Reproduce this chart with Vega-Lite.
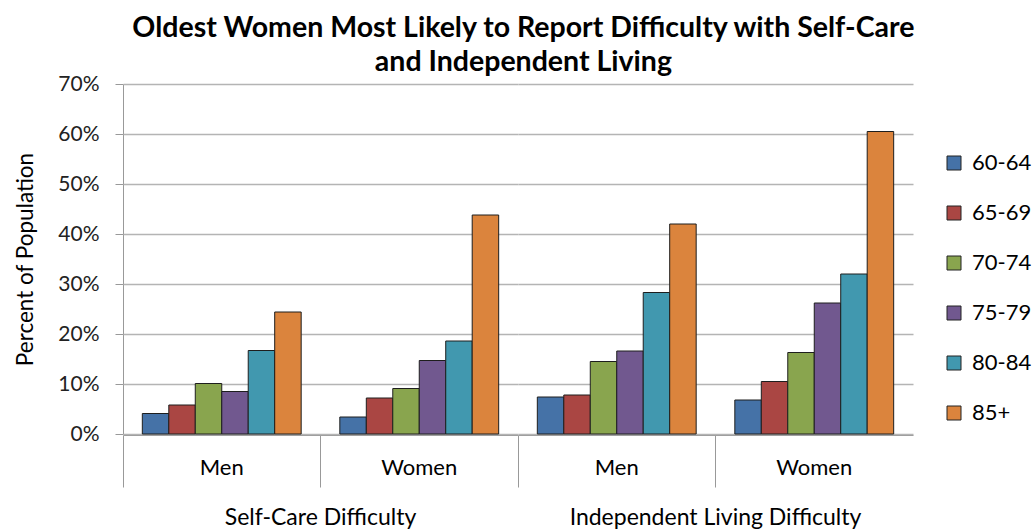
{
  "$schema": "https://vega.github.io/schema/vega-lite/v6.json",
  "background": "white",
  "padding": {"left": 14, "top": 13, "right": 5, "bottom": 5},
  "title": {
    "text": ["Oldest Women Most Likely to Report Difficulty with Self-Care", "and Independent Living"],
    "font": "Lato",
    "fontSize": 28.5,
    "fontWeight": "bold",
    "color": "black",
    "anchor": "middle",
    "lineHeight": 34,
    "offset": -3
  },
  "data": {
    "values": [
      {"difficulty": "Self-Care Difficulty", "sex": "Men", "age": "60-64", "value": 0.041},
      {"difficulty": "Self-Care Difficulty", "sex": "Men", "age": "65-69", "value": 0.058},
      {"difficulty": "Self-Care Difficulty", "sex": "Men", "age": "70-74", "value": 0.101},
      {"difficulty": "Self-Care Difficulty", "sex": "Men", "age": "75-79", "value": 0.085},
      {"difficulty": "Self-Care Difficulty", "sex": "Men", "age": "80-84", "value": 0.167},
      {"difficulty": "Self-Care Difficulty", "sex": "Men", "age": "85+", "value": 0.244},
      {"difficulty": "Self-Care Difficulty", "sex": "Women", "age": "60-64", "value": 0.034},
      {"difficulty": "Self-Care Difficulty", "sex": "Women", "age": "65-69", "value": 0.072},
      {"difficulty": "Self-Care Difficulty", "sex": "Women", "age": "70-74", "value": 0.091},
      {"difficulty": "Self-Care Difficulty", "sex": "Women", "age": "75-79", "value": 0.147},
      {"difficulty": "Self-Care Difficulty", "sex": "Women", "age": "80-84", "value": 0.186},
      {"difficulty": "Self-Care Difficulty", "sex": "Women", "age": "85+", "value": 0.438},
      {"difficulty": "Independent Living Difficulty", "sex": "Men", "age": "60-64", "value": 0.074},
      {"difficulty": "Independent Living Difficulty", "sex": "Men", "age": "65-69", "value": 0.078},
      {"difficulty": "Independent Living Difficulty", "sex": "Men", "age": "70-74", "value": 0.145},
      {"difficulty": "Independent Living Difficulty", "sex": "Men", "age": "75-79", "value": 0.166},
      {"difficulty": "Independent Living Difficulty", "sex": "Men", "age": "80-84", "value": 0.283},
      {"difficulty": "Independent Living Difficulty", "sex": "Men", "age": "85+", "value": 0.420},
      {"difficulty": "Independent Living Difficulty", "sex": "Women", "age": "60-64", "value": 0.068},
      {"difficulty": "Independent Living Difficulty", "sex": "Women", "age": "65-69", "value": 0.105},
      {"difficulty": "Independent Living Difficulty", "sex": "Women", "age": "70-74", "value": 0.163},
      {"difficulty": "Independent Living Difficulty", "sex": "Women", "age": "75-79", "value": 0.262},
      {"difficulty": "Independent Living Difficulty", "sex": "Women", "age": "80-84", "value": 0.320},
      {"difficulty": "Independent Living Difficulty", "sex": "Women", "age": "85+", "value": 0.605}
    ]
  },
  "spacing": 0,
  "facet": {
    "column": {
      "field": "difficulty",
      "type": "nominal",
      "sort": ["Self-Care Difficulty", "Independent Living Difficulty"],
      "header": {
        "title": null,
        "labelOrient": "bottom",
        "labelFont": "Lato",
        "labelFontSize": 23,
        "labelColor": "black",
        "labelPadding": 19
      }
    }
  },
  "spec": {
    "width": 395,
    "height": 350,
    "mark": {"type": "bar", "stroke": "#1e1e1e", "strokeWidth": 1},
    "encoding": {
      "x": {
        "field": "sex",
        "type": "nominal",
        "sort": ["Men", "Women"],
        "scale": {"paddingInner": 0, "paddingOuter": 0},
        "axis": {
          "title": null,
          "labelAngle": 0,
          "bandPosition": 0,
          "tickSize": 52,
          "tickColor": "#999",
          "domainColor": "#999",
          "labelPadding": -30,
          "labelFont": "Lato",
          "labelFontSize": 22,
          "labelColor": "black",
          "grid": false
        }
      },
      "xOffset": {
        "field": "age",
        "type": "nominal",
        "sort": ["60-64", "65-69", "70-74", "75-79", "80-84", "85+"],
        "scale": {"paddingInner": 0, "paddingOuter": 0.73}
      },
      "y": {
        "field": "value",
        "type": "quantitative",
        "scale": {"domain": [0, 0.7]},
        "axis": {
          "title": "Percent of Population",
          "titleFont": "Lato",
          "titleFontSize": 22.5,
          "titleFontWeight": "normal",
          "titleColor": "black",
          "titlePadding": 20,
          "values": [0, 0.1, 0.2, 0.3, 0.4, 0.5, 0.6, 0.7],
          "format": ".0%",
          "labelFont": "Lato",
          "labelFontSize": 21,
          "labelColor": "#222",
          "labelPadding": 16,
          "tickSize": 8,
          "tickColor": "#999",
          "domainColor": "#999",
          "gridColor": "#b4b4b4",
          "gridWidth": 1.5
        }
      },
      "color": {
        "field": "age",
        "type": "nominal",
        "sort": ["60-64", "65-69", "70-74", "75-79", "80-84", "85+"],
        "scale": {
          "domain": ["60-64", "65-69", "70-74", "75-79", "80-84", "85+"],
          "range": ["#4572A7", "#AA4643", "#89A54E", "#71588F", "#4198AF", "#DB843D"]
        },
        "legend": {
          "title": null,
          "orient": "none",
          "legendX": 820,
          "legendY": 68,
          "symbolType": "square",
          "symbolSize": 196,
          "symbolStrokeColor": "#222",
          "symbolStrokeWidth": 1,
          "labelFont": "Lato",
          "labelFontSize": 22,
          "labelColor": "black",
          "labelOffset": 7,
          "rowPadding": 28
        }
      }
    }
  },
  "config": {
    "view": {"stroke": null}
  }
}
